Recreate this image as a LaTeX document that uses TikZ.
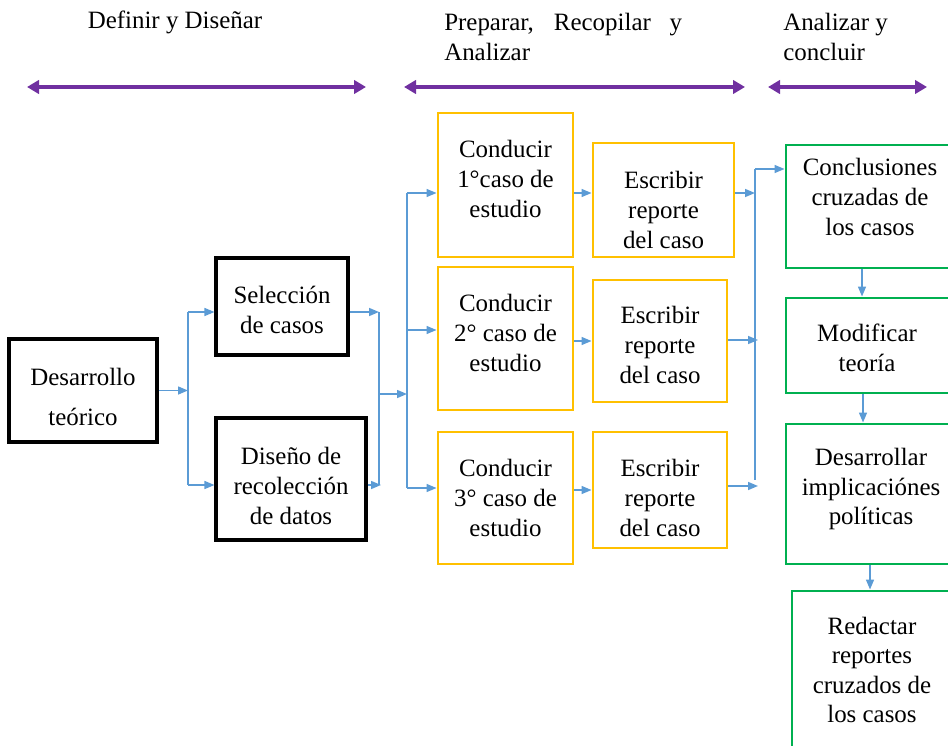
\documentclass[tikz,border=0pt]{standalone}
\usepackage{fontspec}
\setmainfont{Liberation Serif}
\usetikzlibrary{arrows.meta}
\definecolor{phase}{HTML}{7030A0}
\definecolor{flow}{HTML}{5B9BD5}
\definecolor{casebox}{HTML}{FFC000}
\definecolor{crossbox}{HTML}{00B050}
\begin{document}
\begin{tikzpicture}[x=0.75pt,y=-0.75pt,
  txt/.style={font=\fontsize{18.7}{22.2}\selectfont, align=center, inner sep=0pt},
  head/.style={font=\fontsize{18.7}{22.2}\selectfont, align=left, inner sep=0pt},
  sz/.style 2 args={minimum width=#1*0.75pt, minimum height=#2*0.75pt},
  blackbox/.style={draw=black, line width=2.3pt, inner sep=0pt},
  yellowbox/.style={draw=casebox, line width=2.2pt, inner sep=0pt},
  greenbox/.style={draw=crossbox, line width=2.2pt, inner sep=0pt},
  phasearrow/.style={draw=phase, line width=3pt,
    {Triangle[length=9pt,width=10pt]}-{Triangle[length=9pt,width=10pt]}},
  link/.style={draw=flow, line width=1.1pt},
  arr/.style={link, -{Triangle[length=7.5pt,width=6pt]}}
]
\useasboundingbox (0,0) rectangle (948,745);

% phase headings and spans
\node[head] (h1) at (175,22) {Definir y Diseñar};
\node[head, anchor=west] (h2) at (444,37) {Preparar,\hspace{15pt}Recopilar\hspace{14pt}y\\Analizar};
\node[head, anchor=west] (h3) at (783,37) {Analizar y\\concluir};
\coordinate (p1a) at (27,87);  \coordinate (p1b) at (366,87);
\coordinate (p2a) at (404,87); \coordinate (p2b) at (745,87);
\coordinate (p3a) at (768,87); \coordinate (p3b) at (927,87);
\draw[phasearrow] (p1a) -- (p1b);
\draw[phasearrow] (p2a) -- (p2b);
\draw[phasearrow] (p3a) -- (p3b);

% design stage
\node[blackbox, sz={148}{103}] (dev) at (83,390.5) {};
\node[txt] (devt) at (83,397) {Desarrollo\\[8.5pt]teórico};
\node[blackbox, sz={132}{97}] (sel) at (282,306.5) {};
\node[txt] (selt) at (282,310) {Selección\\de casos};
\node[blackbox, sz={150}{122}] (dis) at (291,479) {};
\node[txt] (dist) at (291,486) {Diseño de\\recolección\\de datos};

% case studies
\node[yellowbox, sz={135}{144}] (c1) at (505.5,185) {};
\node[txt] (c1t) at (505.5,179) {Conducir\\1°caso de\\estudio};
\node[yellowbox, sz={135}{143}] (c2) at (505.5,338.5) {};
\node[txt] (c2t) at (505.5,333) {Conducir\\2° caso de\\estudio};
\node[yellowbox, sz={135}{132}] (c3) at (505.5,498) {};
\node[txt] (c3t) at (505.5,498) {Conducir\\3° caso de\\estudio};
\node[yellowbox, sz={141}{114}] (e1) at (663.5,200) {};
\node[txt] (e1t) at (663.5,210) {Escribir\\reporte\\del caso};
\node[yellowbox, sz={134}{122}] (e2) at (660,341) {};
\node[txt] (e2t) at (660,345) {Escribir\\reporte\\del caso};
\node[yellowbox, sz={134}{116}] (e3) at (660,490) {};
\node[txt] (e3t) at (660,498) {Escribir\\reporte\\del caso};

% cross-case analysis
\node[greenbox, sz={166}{123}] (g1) at (869,206.5) {};
\node[txt] (g1t) at (870,197) {Conclusiones\\cruzadas de\\los casos};
\node[greenbox, sz={166}{95}] (g2) at (869,345.5) {};
\node[txt] (g2t) at (867,348) {Modificar\\teoría};
\node[greenbox, sz={166}{140}] (g3) at (869,494) {};
\node[txt] (g3t) at (871,489) {Desarrollar\\implicaciónes\\políticas};
\node[greenbox, sz={160}{179}] (g4) at (872,680.5) {};
\node[txt] (g4t) at (872,670) {Redactar\\reportes\\cruzados de\\los casos};

% junction points of the flow lines
\coordinate (j1) at (188,390.5);
\coordinate (j1t) at (188,312);
\coordinate (j1b) at (188,485);
\coordinate (j2t) at (379,312);
\coordinate (j2b) at (379,485);
\coordinate (j2m) at (379,394);
\coordinate (j3m) at (407,394);
\coordinate (j3t) at (407,193);
\coordinate (j3c) at (407,330);
\coordinate (j3b) at (407,488);
\coordinate (j4t) at (755,169);
\coordinate (j4b) at (755,480);
\coordinate (k1) at (755,193);
\coordinate (k2) at (758,340);
\coordinate (k3) at (758,486);
\coordinate (dsout) at (381,485);

% flow lines
\draw[arr] (dev.east) -- (j1);
\draw[link] (j1t) -- (j1b);
\draw[arr] (j1t) -- (j1t -| sel.west);
\draw[arr] (j1b) -- (j1b -| dis.west);
\draw[arr] (j2t -| sel.east) -- (j2t);
\draw[arr] (dis.east |- dsout) -- (dsout);
\draw[link] (j2t) -- (j2b);
\draw[arr] (j2m) -- (j3m);
\draw[link] (j3t) -- (j3b);
\draw[arr] (j3t) -- (j3t -| c1.west);
\draw[arr] (j3c) -- (j3c -| c2.west);
\draw[arr] (j3b) -- (j3b -| c3.west);
\draw[arr] (c1.east |- k1) -- (k1 -| e1.west);
\draw[arr] (c2.east |- e2.west) -- (e2.west);
\draw[arr] (c3.east |- e3.west) -- (e3.west);
\draw[arr] (e1.east |- k1) -- (k1);
\draw[arr] (e2.east |- k2) -- (k2);
\draw[arr] (e3.east |- k3) -- (k3);
\draw[link] (j4t) -- (j4b);
\draw[arr] (j4t) -- (j4t -| g1.west);
\draw[arr] (g1.south -| 862,0) -- (g2.north -| 862,0);
\draw[arr] (g2.south -| 863,0) -- (g3.north -| 863,0);
\draw[arr] (g3.south -| 870,0) -- (g4.north -| 870,0);
\end{tikzpicture}
\end{document}
